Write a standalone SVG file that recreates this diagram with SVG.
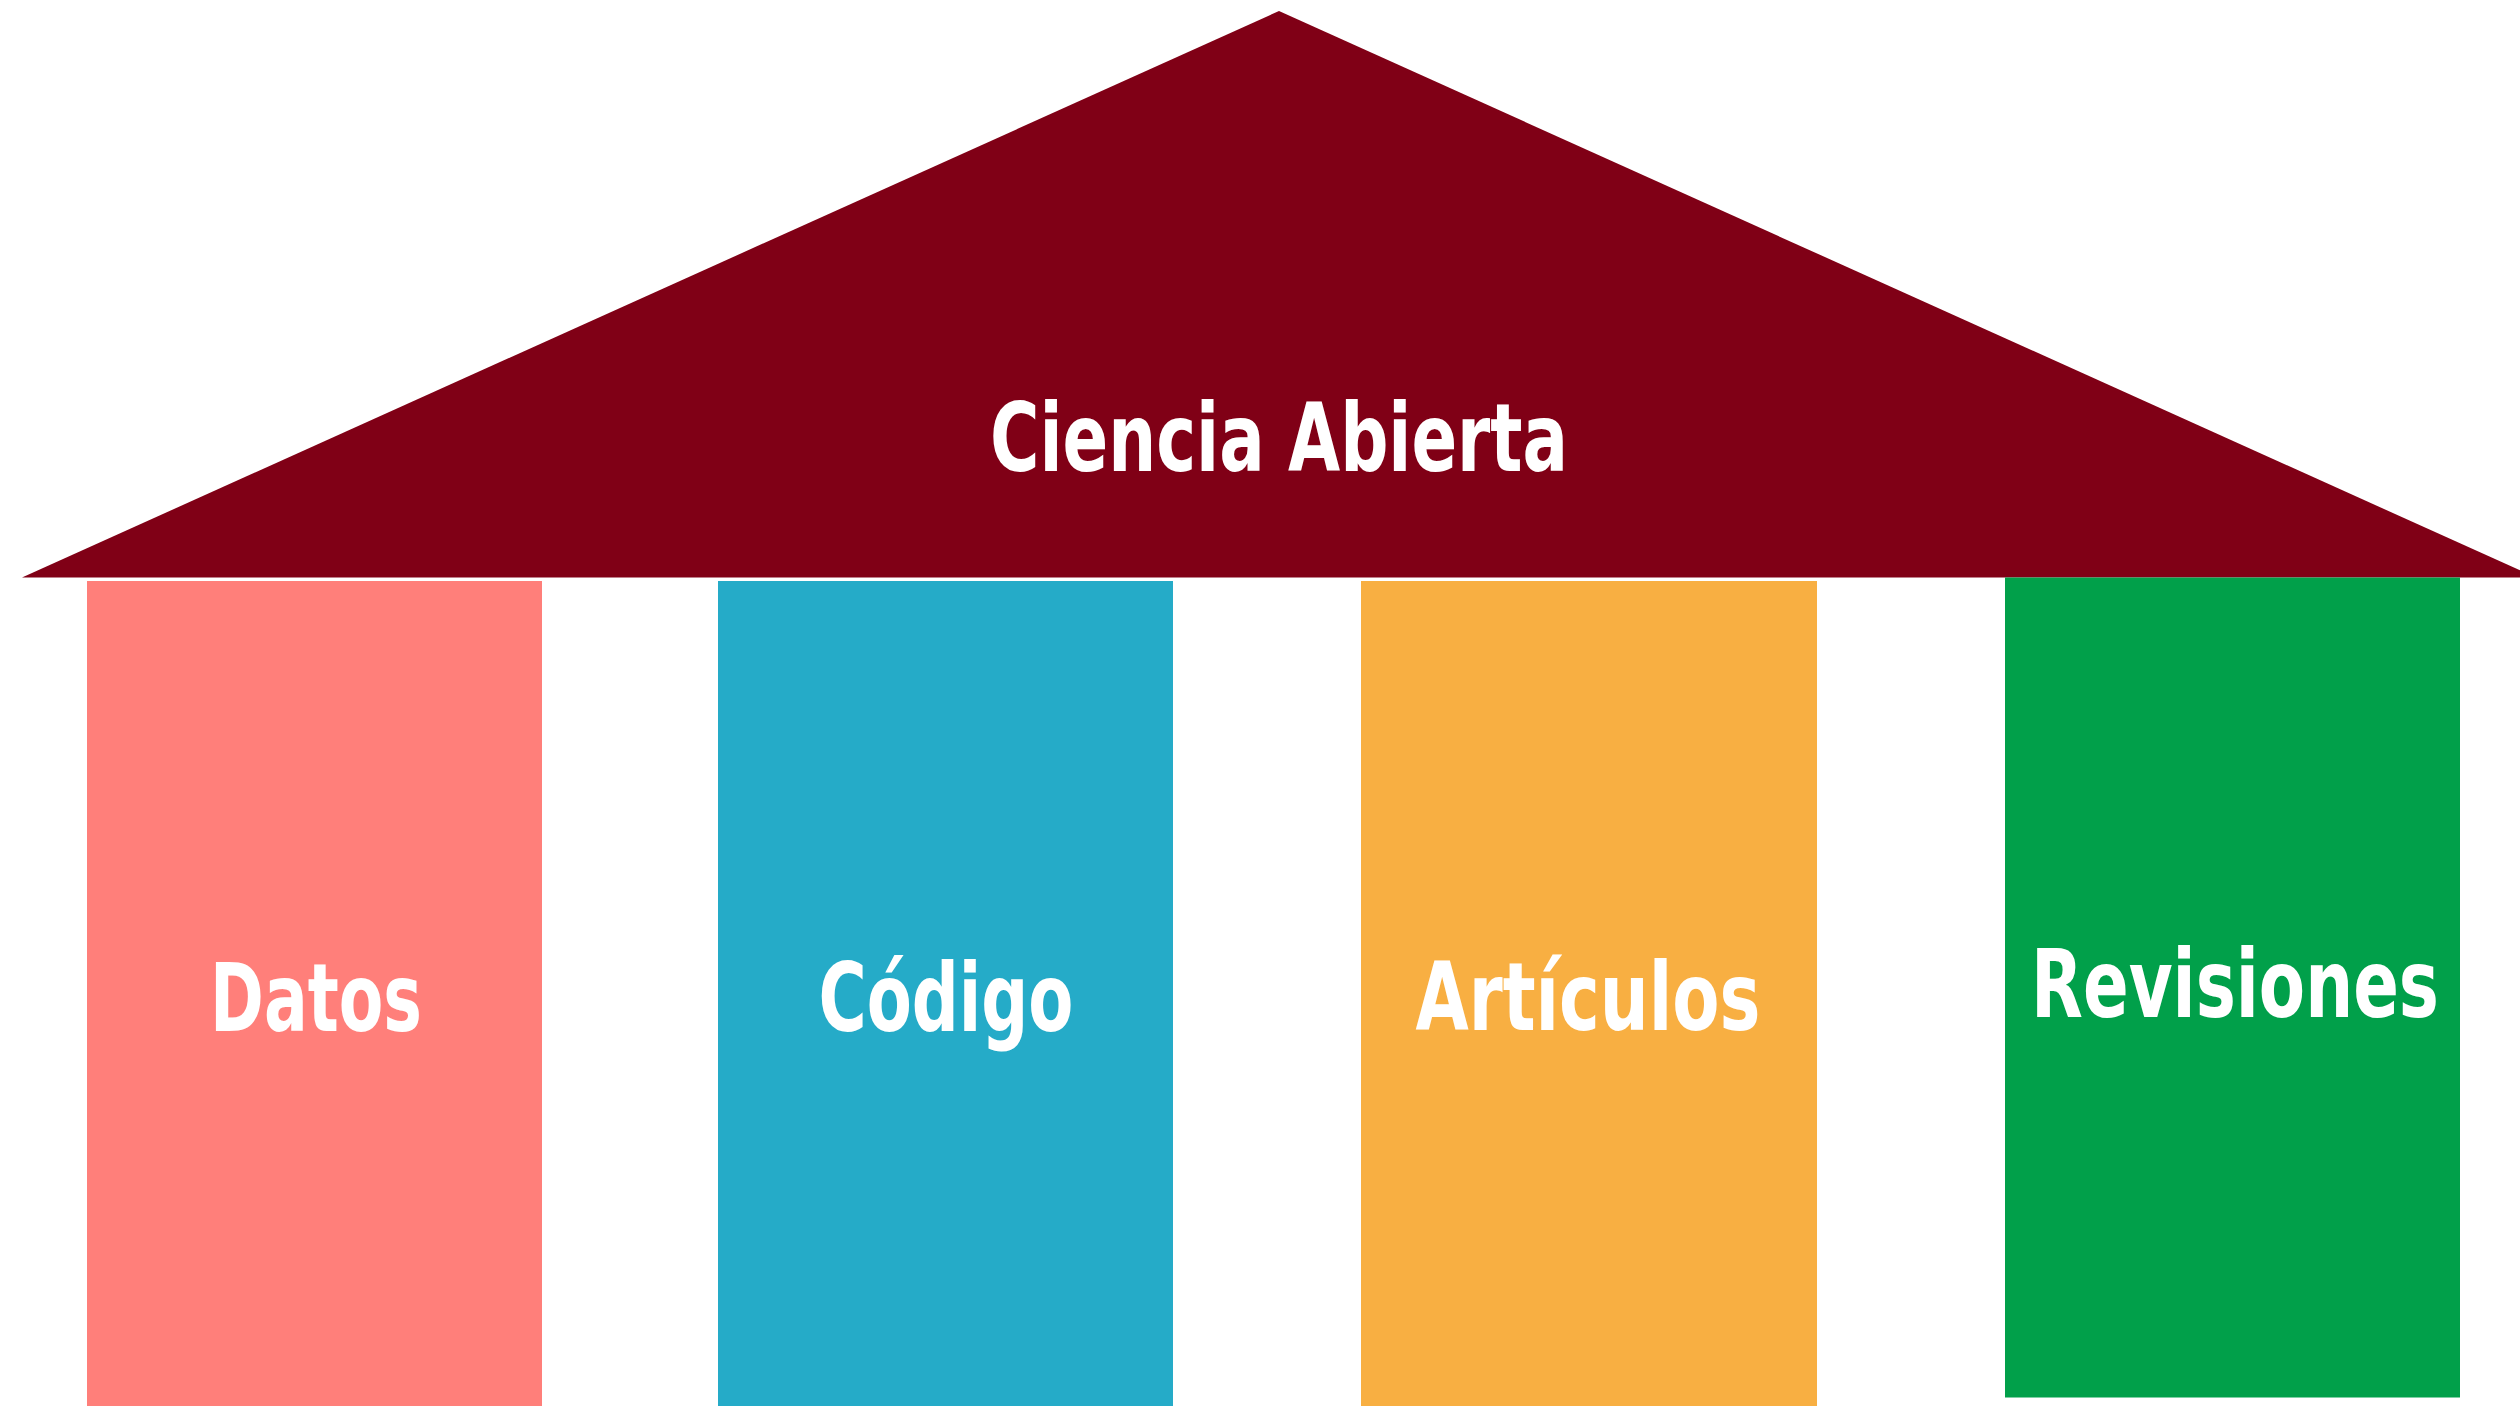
<svg xmlns="http://www.w3.org/2000/svg" width="2520" height="1406" viewBox="0 0 2520 1406">
<style>
.lbl{font-family:"DejaVu Sans Condensed","DejaVu Sans",sans-serif;font-weight:bold;fill:#ffffff;text-anchor:middle;font-size:94px}
</style>
<rect width="2520" height="1406" fill="#ffffff"/>
<g id="roof">
<polygon points="1279,11 22,577.5 2536,577.5" fill="#800016"/>
<text class="lbl" x="1279" y="471" textLength="578" lengthAdjust="spacingAndGlyphs">Ciencia Abierta</text>
</g>
<g id="datos">
<rect x="87" y="581" width="455" height="825" fill="#FF7F7A"/>
<text class="lbl" x="316" y="1031" textLength="212" lengthAdjust="spacingAndGlyphs">Datos</text>
</g>
<g id="codigo">
<rect x="718" y="581" width="455" height="825" fill="#25ABC8"/>
<text class="lbl" x="946" y="1031" textLength="255" lengthAdjust="spacingAndGlyphs">Código</text>
</g>
<g id="articulos">
<rect x="1361" y="581" width="456" height="825" fill="#F8AF42"/>
<text class="lbl" x="1588" y="1030" textLength="345" lengthAdjust="spacingAndGlyphs">Artículos</text>
</g>
<g id="revisiones">
<rect x="2005" y="577.5" width="455" height="820" fill="#01A04A"/>
<text class="lbl" x="2235" y="1017" textLength="408" lengthAdjust="spacingAndGlyphs">Revisiones</text>
</g>
<g id="connectors"/>
</svg>
